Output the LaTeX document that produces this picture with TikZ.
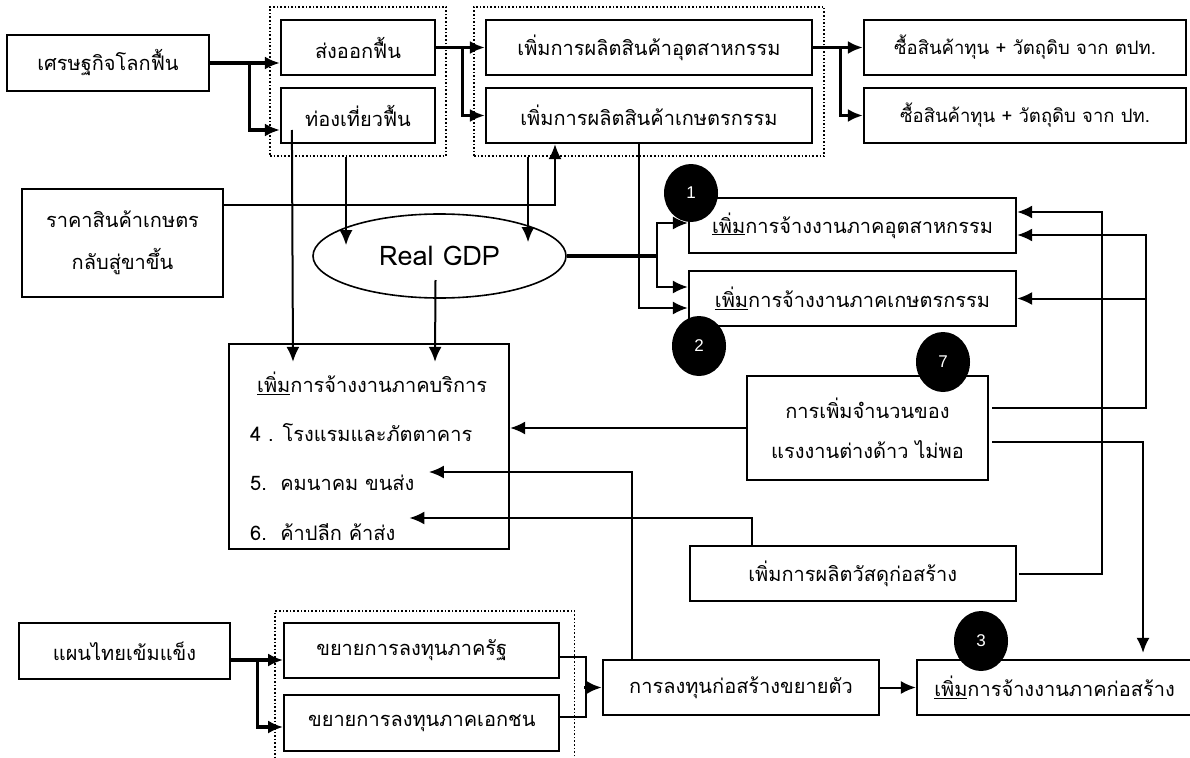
\documentclass[tikz,border=0pt]{standalone}
\usepackage{fontspec}
\setmainfont[Script=Thai]{Loma}
\newfontfamily\numfont{Liberation Sans}
\usetikzlibrary{arrows.meta,shapes.geometric,calc,fit}

\begin{document}
\begin{tikzpicture}[x=1pt, y=-1pt,
	>={Latex[length=15pt,width=13pt]},
	box/.style={draw, line width=2.2pt, minimum height=55pt, inner sep=0pt, font=\fontsize{20}{24}\selectfont},
	grp/.style={draw, dotted, line width=1.6pt},
	lean/.style={line width=2pt},
	fat/.style={line width=3.2pt},
	svctext/.style={anchor=west, inner sep=0pt, font=\fontsize{20}{24}\selectfont},
	numdot/.style={ellipse, fill=black, minimum width=54pt, minimum height=60pt, inner sep=0pt, text=white, font=\numfont\fontsize{17}{20}\selectfont}]
	\useasboundingbox (0,0) rectangle (1190,757);

	%Zeile oben
	\node[box, minimum width=202pt, minimum height=56pt] (eco) at (108,63) {เศรษฐกิจโลกฟื้น};
	\node[box, minimum width=154pt] (export) at (358,47.5) {ส่งออกฟื้น};
	\node[box, minimum width=154pt] (tour) at (358,115.5) {ท่องเที่ยวฟื้น};
	\node[box, minimum width=326pt] (indprod) at (649,47.5) {เพิ่มการผลิตสินค้าอุตสาหกรรม};
	\node[box, minimum width=326pt] (agriprod) at (649,115.5) {เพิ่มการผลิตสินค้าเกษตรกรรม};
	\node[box, minimum width=322pt, font=\fontsize{18.5}{22}\selectfont] (buyfor) at (1025,47.5) {ซื้อสินค้าทุน + วัตถุดิบ จาก ตปท.};
	\node[box, minimum width=322pt, font=\fontsize{18.5}{22}\selectfont] (buydom) at (1025,115.5) {ซื้อสินค้าทุน + วัตถุดิบ จาก ปท.};
	\node[grp, fit=(export)(tour), inner xsep=10pt, inner ysep=12pt] (grpa) {};
	\node[grp, fit=(indprod)(agriprod), inner xsep=11pt, inner ysep=12pt] (grpb) {};

	%Mitte
	\node[box, minimum width=201pt, minimum height=108pt, align=center, font=\fontsize{20}{42}\selectfont] (price) at (122.5,243) {ราคาสินค้าเกษตร\\กลับสู่ขาขึ้น};
	\node[draw, ellipse, line width=1.6pt, minimum width=253pt, minimum height=84pt, inner sep=0pt, font=\fontsize{27}{30}\selectfont] (gdp) at (439.5,256) {Real GDP};
	\node[box, minimum width=327pt] (empind) at (852.5,225.5) {\underline{เพิ่ม}การจ้างงานภาคอุตสาหกรรม};
	\node[box, minimum width=327pt] (empagr) at (852.5,298.5) {\underline{เพิ่ม}การจ้างงานภาคเกษตรกรรม};
	\node[box, minimum width=280pt, minimum height=205pt] (service) at (369,446.5) {};
	\node[svctext] (svchd) at (257,383) {\underline{เพิ่ม}การจ้างงานภาคบริการ};
	\node[svctext] (svc4) at (250,433) {4 . โรงแรมและภัตตาคาร};
	\node[svctext] (svc5) at (250,483) {5.\ \ คมนาคม ขนส่ง};
	\node[svctext] (svc6) at (250,532) {6.\ \ ค้าปลีก ค้าส่ง};
	\node[box, minimum width=241pt, minimum height=104pt, align=center, font=\fontsize{20}{40}\selectfont] (labor) at (867.5,428) {การเพิ่มจำนวนของ\\แรงงานต่างด้าว ไม่พอ};
	\node[box, minimum width=326pt] (material) at (852.75,573.5) {เพิ่มการผลิตวัสดุก่อสร้าง};

	%Zeile unten
	\node[box, minimum width=211pt, minimum height=56pt] (plan) at (124.5,651) {แผนไทยเข้มแข็ง};
	\node[box, minimum width=275pt] (pub) at (421.75,650.5) {\hspace*{-20pt}ขยายการลงทุนภาครัฐ};
	\node[box, minimum width=275pt, minimum height=56pt] (priv) at (421.75,723) {ขยายการลงทุนภาคเอกชน};
	\node[grp, fit=(pub)(priv), inner xsep=11pt, inner ysep=11pt, xshift=3pt] (grpc) {};
	\node[box, minimum width=276pt] (invest) at (741,687.5) {การลงทุนก่อสร้างขยายตัว};
	\node[box, minimum width=275pt] (empcon) at (1054.5,687.5) {\underline{เพิ่ม}การจ้างงานภาคก่อสร้าง};

	%Nummern
	\node[numdot, minimum height=58pt] (n1) at (691,193) {1};
	\node[numdot] (n2) at (699,346) {2};
	\node[numdot] (n7) at (943,362) {7};
	\node[numdot] (n3) at (981,641) {3};

	%Pfeile oben
	\coordinate (ja) at ($(eco.east)+(39,0)$);
	\draw[fat,->] (eco.east) -- (export.west |- eco.east);
	\draw[fat,->] (ja) |- ($(tour.west)+(0,14.5)$);
	\coordinate (jb) at ($(export.east)+(26,0)$);
	\draw[fat,->] (export.east) -- (indprod.west);
	\draw[fat,->] (jb) |- (agriprod.west);
	\coordinate (jc) at ($(indprod.east)+(27,0)$);
	\draw[fat,->] (indprod.east) -- (buyfor.west);
	\draw[fat,->] (jc) |- (buydom.west);

	%Pfeile Mitte
	\draw[lean,->] ($(tour.west)+(12,14.5)$) -- ($(service.north)+(-76,19)$);
	\draw[lean,->] ($(grpa.south)+(-12,0)$) -- ($(gdp.north)+(-93.5,32)$);
	\draw[lean,->] ($(grpb.south)+(-121,0)$) -- ($(gdp.north)+(88.5,29)$);
	\draw[lean,->] ($(price.east)+(0,-38)$) -| ($(agriprod.south)+(-94,0)$);
	\draw[lean,->] ($(agriprod.south)+(-10,0)$) |- ($(empagr.west)+(0,9.5)$);
	\coordinate (jd) at ($(gdp.east)+(90,0)$);
	\draw[fat] (gdp.east) -- (jd);
	\draw[lean,->] (jd) |- ($(empind.west)+(0,-2.5)$);
	\draw[lean,->] (jd) |- ($(empagr.west)+(0,-11.5)$);
	\draw[lean,->] ($(gdp.center)+(-4,24)$) -- ($(service.north)+(66,19)$);
	\draw[lean,->] (labor.west) -- (service.east |- labor.west);

	%Pfeile rechts
	\coordinate (je) at ($(empind.east)+(129,9.5)$);
	\draw[lean,->] ($(labor.east)+(3,-20)$) -| (je) -- ($(empind.east)+(0,9.5)$);
	\draw[lean,->] (je |- empagr.east) -- (empagr.east);
	\draw[lean,->] ($(labor.east)+(3,14)$) -| ($(empcon.north)+(88.5,-6)$);
	\coordinate (jf) at ($(empind.east)+(85,-13.5)$);
	\draw[lean,->] ($(material.east)+(2,0)$) -| (jf) -- ($(empind.east)+(0,-13.5)$);
	\draw[lean,->] ($(material.north)+(-101,0)$) |- ($(service.west)+(181.5,71.5)$);
	\draw[lean,->] ($(invest.north)+(-109.5,0)$) |- ($(service.west)+(201,25.5)$);

	%Pfeile unten
	\coordinate (jg) at ($(plan.east)+(26,9)$);
	\draw[fat,->] ($(plan.east)+(0,9)$) -- (pub.west |- jg);
	\draw[fat,->] (jg) |- ($(priv.west)+(0,4)$);
	\draw[lean] ($(pub.east)+(0,6.5)$) -| ($(priv.east)+(26,-6)$) -- ($(priv.east)+(0,-6)$);
	\draw[fat,->] ($(invest.west)+(-17.5,0)$) -- (invest.west);
	\draw[lean,->] (invest.east) -- (empcon.west);

\end{tikzpicture}
\end{document}
